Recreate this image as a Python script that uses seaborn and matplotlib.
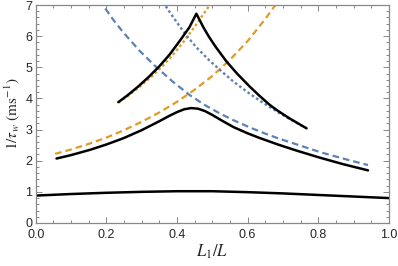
import seaborn as sns
import matplotlib.pyplot as plt
from matplotlib.ticker import MultipleLocator

# curves (x = L1/L, y = 1/tau_w in ms^-1)
low_x = [0.0, 0.1, 0.2, 0.3, 0.4, 0.5, 0.6, 0.7, 0.8, 0.9, 1.0]
low_y = [0.88, 0.93, 0.97, 1.00, 1.02, 1.02, 0.99, 0.95, 0.90, 0.85, 0.80]

mid_x = [0.059, 0.10, 0.154, 0.20, 0.248, 0.30, 0.352, 0.38, 0.40, 0.42, 0.44, 0.46, 0.48, 0.50,
         0.53, 0.56, 0.60, 0.634, 0.686, 0.74, 0.804, 0.87, 0.941]
mid_y = [2.07, 2.18, 2.35, 2.52, 2.72, 2.98, 3.28, 3.45, 3.56, 3.65, 3.69, 3.67, 3.59, 3.47,
         3.27, 3.08, 2.88, 2.73, 2.52, 2.32, 2.10, 1.89, 1.69]

top_x = [0.234, 0.26, 0.29, 0.32, 0.35, 0.38, 0.41, 0.435, 0.455, 0.465, 0.475, 0.49, 0.51,
         0.54, 0.57, 0.606, 0.635, 0.663, 0.686, 0.72, 0.767]
top_y = [3.88, 4.10, 4.38, 4.69, 5.03, 5.42, 5.88, 6.28, 6.72, 6.50, 6.28, 5.99, 5.65,
         5.19, 4.80, 4.38, 4.07, 3.79, 3.60, 3.35, 3.04]

orange_dash_x = [0.055, 0.10, 0.15, 0.20, 0.25, 0.30, 0.35, 0.40, 0.45, 0.50, 0.55, 0.60, 0.65, 0.68]
orange_dash_y = [2.22, 2.36, 2.54, 2.74, 2.98, 3.25, 3.55, 3.89, 4.28, 4.72, 5.24, 5.84, 6.55, 7.02]

orange_dot_x = [0.234, 0.26, 0.295, 0.33, 0.36, 0.39, 0.42, 0.455, 0.48, 0.50]
orange_dot_y = [3.87, 4.07, 4.38, 4.72, 5.05, 5.42, 5.84, 6.38, 6.79, 7.12]

blue_dash_x = [0.18, 0.19, 0.22, 0.248, 0.295, 0.342, 0.39, 0.437, 0.48, 0.521, 0.56, 0.606,
               0.65, 0.686, 0.74, 0.804, 0.87, 0.941]
blue_dash_y = [7.17, 7.0, 6.52, 6.12, 5.52, 5.0, 4.52, 4.10, 3.78, 3.52, 3.30, 3.07,
               2.87, 2.72, 2.52, 2.28, 2.07, 1.86]

blue_dot_x = [0.36, 0.366, 0.385, 0.408, 0.43, 0.455, 0.49, 0.521, 0.56, 0.606, 0.645, 0.686, 0.725, 0.767]
blue_dot_y = [7.1, 7.0, 6.68, 6.31, 5.98, 5.64, 5.24, 4.92, 4.54, 4.15, 3.85, 3.56, 3.30, 3.04]

sns.set_style("ticks")
plt.rcParams['font.family'] = ['Liberation Sans', 'DejaVu Sans']
plt.rcParams['mathtext.fontset'] = 'stix'

blue = "#5E81B5"
orange = "#E19C24"

fig = plt.figure(figsize=(3.98, 2.66), dpi=100)
ax = fig.add_axes([0.0897, 0.1617, 0.8873, 0.8195])

lw = 1.6
dash = (0, (3.0, 1.8))
dot = (0, (1.1, 1.1))
sns.lineplot(x=orange_dash_x, y=orange_dash_y, ax=ax, color=orange, lw=lw, linestyle=dash)
sns.lineplot(x=blue_dash_x, y=blue_dash_y, ax=ax, color=blue, lw=lw, linestyle=dash)
sns.lineplot(x=orange_dot_x, y=orange_dot_y, ax=ax, color=orange, lw=1.7, linestyle=dot)
sns.lineplot(x=blue_dot_x, y=blue_dot_y, ax=ax, color=blue, lw=1.7, linestyle=dot)
for xs, ys in [(low_x, low_y), (mid_x, mid_y), (top_x, top_y)]:
    sns.lineplot(x=xs, y=ys, ax=ax, color="black", lw=1.8)

ax.set_xlim(0, 1)
ax.set_ylim(0, 7)
ax.xaxis.set_major_locator(MultipleLocator(0.2))
ax.xaxis.set_minor_locator(MultipleLocator(0.05))
ax.yaxis.set_major_locator(MultipleLocator(1))
ax.yaxis.set_minor_locator(MultipleLocator(0.2))
ax.xaxis.set_major_formatter(plt.FuncFormatter(lambda v, p: f"{v:.1f}"))

frame = "#888888"
for s in ax.spines.values():
    s.set_color(frame)
    s.set_linewidth(0.9)
ax.tick_params(which="both", direction="in", top=True, right=True, color=frame, width=0.7,
               labelsize=9)
ax.tick_params(axis="x", pad=4.5)
ax.tick_params(axis="y", pad=2.5)
ax.tick_params(which="major", length=4.5)
ax.tick_params(which="minor", length=2.5)

ax.set_xlabel(r"$L_1/L$", fontsize=12, labelpad=1)
ax.set_ylabel(r"$1/\tau_w\ (\mathrm{ms}^{-1})$", fontsize=11, labelpad=2)

fig.savefig("out.png", dpi=100)
